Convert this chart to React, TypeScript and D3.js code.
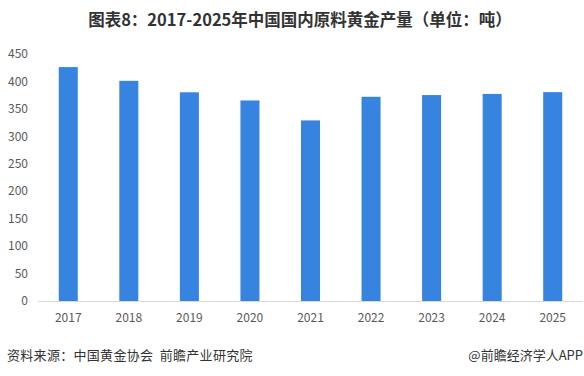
import React, { useEffect, useRef } from "react";
import * as d3 from "d3";

const years = ["2017", "2018", "2019", "2020", "2021", "2022", "2023", "2024", "2025"];
const output = [426.14, 401.12, 380.23, 365.34, 328.98, 372.05, 375.16, 377.24, 380.5];
const yTicks = [0, 50, 100, 150, 200, 250, 300, 350, 400, 450];

const title = "图表8：2017-2025年中国国内原料黄金产量（单位：吨）";
const source = "资料来源：中国黄金协会  前瞻产业研究院";
const credit = "@前瞻经济学人APP";

const W = 584;
const H = 376;
const FONT = "'Noto Sans CJK SC', 'Microsoft YaHei', sans-serif";

export default function App() {
  const ref = useRef<SVGSVGElement>(null);

  useEffect(() => {
    const svg = d3.select(ref.current);
    svg.selectAll("*").remove();

    const margin = { top: 54, right: 1, bottom: 75, left: 38 };

    const x = d3.scaleBand()
      .domain(years)
      .range([margin.left, W - margin.right])
      .paddingInner(0.686)
      .paddingOuter(0.343);

    const y = d3.scaleLinear()
      .domain([0, 450])
      .range([H - margin.bottom, margin.top]);

    svg.append("rect").attr("width", W).attr("height", H).attr("fill", "#fff");

    // title
    svg.append("text")
      .attr("x", 300)
      .attr("y", 20)
      .attr("dy", "0.35em")
      .attr("text-anchor", "middle")
      .style("font-family", FONT)
      .style("font-size", "16.5px")
      .style("font-weight", "bold")
      .attr("fill", "#333")
      .text(title);

    // y labels
    svg.append("g")
      .selectAll("text")
      .data(yTicks)
      .enter()
      .append("text")
      .attr("x", 28)
      .attr("y", d => y(d))
      .attr("dy", "0.35em")
      .attr("text-anchor", "end")
      .style("font-family", FONT)
      .style("font-size", "12px")
      .attr("fill", "#595959")
      .text(d => d);

    // bars
    svg.append("g")
      .selectAll("rect")
      .data(output)
      .enter()
      .append("rect")
      .attr("x", (d, i) => x(years[i]) as number)
      .attr("y", d => y(d))
      .attr("width", x.bandwidth())
      .attr("height", d => y(0) - y(d))
      .attr("fill", "#3783e0");

    // baseline
    svg.append("line")
      .attr("x1", margin.left)
      .attr("x2", W - margin.right)
      .attr("y1", y(0) + 0.5)
      .attr("y2", y(0) + 0.5)
      .attr("stroke", "#d9d9d9")
      .attr("stroke-width", 1);

    // x labels
    svg.append("g")
      .selectAll("text")
      .data(years)
      .enter()
      .append("text")
      .attr("x", d => (x(d) as number) + x.bandwidth() / 2)
      .attr("y", 318)
      .attr("dy", "0.35em")
      .attr("text-anchor", "middle")
      .style("font-family", FONT)
      .style("font-size", "12px")
      .attr("fill", "#595959")
      .text(d => d);

    // footer
    svg.append("text")
      .attr("x", 7)
      .attr("y", 355)
      .attr("dy", "0.35em")
      .style("font-family", FONT)
      .style("font-size", "13px")
      .style("letter-spacing", "0.3px")
      .style("white-space", "pre")
      .attr("fill", "#333")
      .text(source);

    svg.append("text")
      .attr("x", 583)
      .attr("y", 355)
      .attr("dy", "0.35em")
      .attr("text-anchor", "end")
      .style("font-family", FONT)
      .style("font-size", "13px")
      .attr("fill", "#333")
      .text(credit);
  }, []);

  return (
    <div style={{ position: "absolute", left: 0, top: 0 }}>
      <svg ref={ref} width={W} height={H} style={{ display: "block" }} />
    </div>
  );
}
